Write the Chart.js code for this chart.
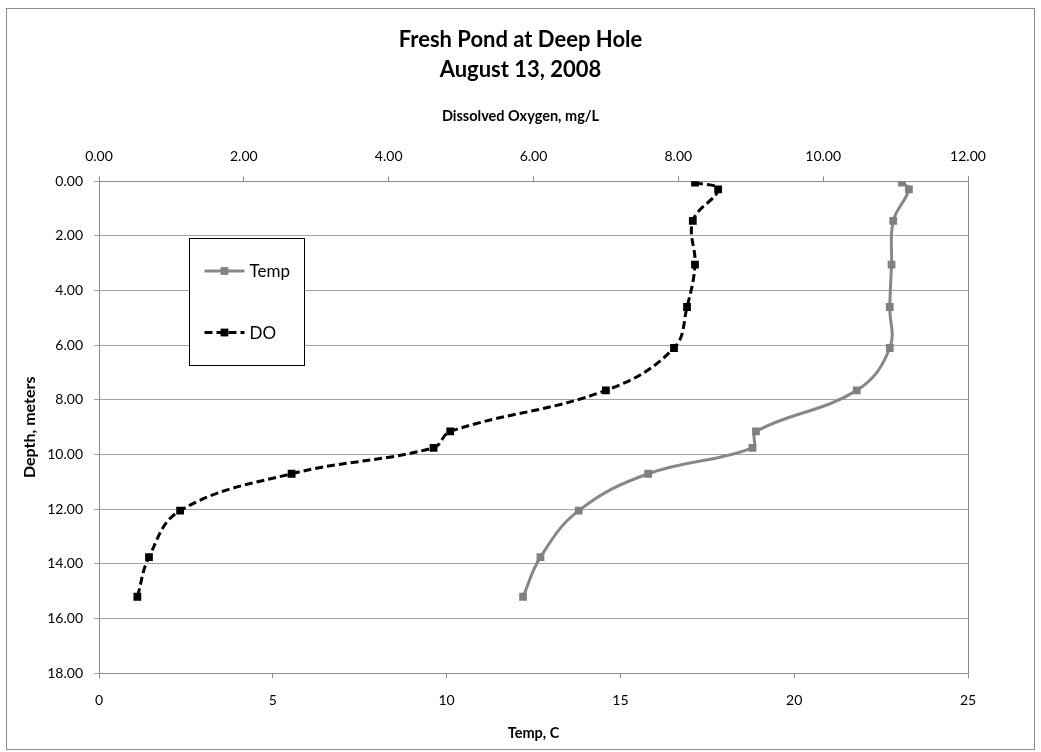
<!DOCTYPE html>
<html>
<head>
<meta charset="utf-8">
<title>Fresh Pond at Deep Hole</title>
<style>
  body { margin: 0; background: #fff; }
  canvas { display: block; }
</style>
</head>
<body>
<canvas id="profile" width="1041" height="752"></canvas>

<script src="https://cdn.jsdelivr.net/npm/chart.js@4.4.0/dist/chart.umd.min.js"></script>
<script>
// sampling depths (m) and readings at each depth
const depth = [0.05, 0.3, 1.45, 3.05, 4.6, 6.1, 7.65, 9.15, 9.75, 10.7, 12.05, 13.75, 15.2];
const temp = [23.1, 23.3, 22.85, 22.8, 22.75, 22.75, 21.8, 18.9, 18.8, 15.8, 13.8, 12.7, 12.2];
const dissolvedO2 = [8.23, 8.55, 8.2, 8.23, 8.12, 7.94, 7.0, 4.85, 4.62, 2.66, 1.12, 0.69, 0.53];

const FONT = 'Lato';
const gridGray = '#a3a3a3';
const axisGray = '#8c8c8c';

function points(values) {
    return values.map((v, i) => ({ x: v, y: depth[i] }));
}

// white background, outer frame and the right edge of the plot
const frame = {
    id: 'frame',
    beforeDraw(chart) {
        const ctx = chart.ctx;
        ctx.save();
        ctx.fillStyle = '#fff';
        ctx.fillRect(0, 0, chart.width, chart.height);
        ctx.strokeStyle = axisGray;
        ctx.lineWidth = 1;
        ctx.strokeRect(6.5, 8.5, chart.width - 13, chart.height - 11);
        ctx.restore();
    },
    beforeDatasetsDraw(chart) {
        const { ctx, chartArea } = chart;
        ctx.save();
        ctx.strokeStyle = axisGray;
        ctx.lineWidth = 1;
        ctx.beginPath();
        ctx.moveTo(Math.round(chartArea.right) + 0.5, chartArea.top);
        ctx.lineTo(Math.round(chartArea.right) + 0.5, chartArea.bottom);
        ctx.stroke();
        ctx.restore();
    }
};

// boxed legend sitting inside the plot, entries stacked far apart
const boxLegend = {
    id: 'boxLegend',
    afterDraw(chart) {
        const { ctx, chartArea } = chart;
        const x = Math.round(chartArea.left + 89.5) + 0.5;
        const y = Math.round(chartArea.top + 56.8) + 0.5;
        ctx.save();
        ctx.fillStyle = '#fff';
        ctx.fillRect(x, y, 115, 127);
        ctx.strokeStyle = '#000';
        ctx.lineWidth = 1;
        ctx.strokeRect(x, y, 115, 127);
        chart.data.datasets.forEach((ds, i) => {
            const cy = y + 32.5 + i * 61.5;
            ctx.strokeStyle = ds.borderColor;
            ctx.lineWidth = ds.borderWidth;
            ctx.setLineDash(ds.borderDash || []);
            ctx.beginPath();
            ctx.moveTo(x + 15, cy);
            ctx.lineTo(x + 55, cy);
            ctx.stroke();
            ctx.setLineDash([]);
            const s = ds.pointRadius * Math.SQRT2;
            ctx.fillStyle = ds.backgroundColor;
            ctx.fillRect(x + 35 - s / 2, cy - s / 2, s, s);
            ctx.fillStyle = '#000';
            ctx.font = '17px ' + FONT;
            ctx.textBaseline = 'middle';
            ctx.textAlign = 'left';
            ctx.fillText(ds.label, x + 60, cy + 1);
        });
        ctx.restore();
    }
};

const tickFont = { family: FONT, size: 14 };
const titleFont = { family: FONT, size: 14.5, weight: 'bold' };

new Chart(document.getElementById('profile'), {
    type: 'scatter',
    data: {
        datasets: [
            {
                label: 'Temp',
                data: points(temp),
                xAxisID: 'x',
                showLine: true,
                tension: 0.4,
                borderColor: '#878787',
                backgroundColor: '#808080',
                borderWidth: 3,
                pointStyle: 'rect',
                pointRadius: 5.5,
                pointBorderWidth: 0
            },
            {
                label: 'DO',
                data: points(dissolvedO2),
                xAxisID: 'x2',
                showLine: true,
                tension: 0.4,
                borderColor: '#000',
                backgroundColor: '#000',
                borderWidth: 3,
                borderDash: [8, 4],
                pointStyle: 'rect',
                pointRadius: 5.5,
                pointBorderWidth: 0
            }
        ]
    },
    options: {
        responsive: false,
        animation: false,
        events: [],
        layout: { padding: 0 },
        plugins: {
            legend: { display: false },
            tooltip: { enabled: false },
            title: {
                display: true,
                text: ['Fresh Pond at Deep Hole', 'August 13, 2008'],
                color: '#000',
                font: { family: FONT, size: 22, weight: 'bold', lineHeight: 1.36 },
                padding: { top: 25, bottom: 0 }
            },
            // the DO axis name, centred on the whole chart like the title
            subtitle: {
                display: true,
                text: 'Dissolved Oxygen, mg/L',
                color: '#000',
                font: titleFont,
                padding: { top: 23, bottom: 0 }
            }
        },
        scales: {
            x: {
                type: 'linear',
                position: 'bottom',
                min: 0,
                max: 25,
                ticks: { stepSize: 5, color: '#000', font: tickFont, padding: 14 },
                grid: { drawOnChartArea: false, tickLength: 5, color: axisGray },
                border: { color: axisGray },
                title: {
                    display: true,
                    text: 'Temp, C',
                    color: '#000',
                    font: titleFont,
                    padding: { top: 0, bottom: 10 }
                },
                afterFit(scale) { scale.height = 78.7; }
            },
            x2: {
                type: 'linear',
                position: 'top',
                min: 0,
                max: 12,
                ticks: {
                    stepSize: 2,
                    color: '#000',
                    font: tickFont,
                    padding: 11,
                    callback: v => v.toFixed(2)
                },
                grid: { drawOnChartArea: false, tickLength: 5, color: axisGray },
                border: { color: axisGray },
                afterFit(scale) { scale.height = 56; }
            },
            y: {
                type: 'linear',
                reverse: true,
                min: 0,
                max: 18,
                ticks: {
                    stepSize: 2,
                    color: '#000',
                    font: tickFont,
                    padding: 11,
                    callback: v => v.toFixed(2)
                },
                grid: { color: gridGray, tickLength: 5 },
                border: { color: axisGray },
                title: {
                    display: true,
                    text: 'Depth, meters',
                    color: '#000',
                    font: { family: FONT, size: 16, weight: 'bold' },
                    padding: { top: 20, bottom: 0 }
                },
                afterFit(scale) { scale.width = 99; }
            },
            // empty right-hand margin so titles centre on the full width
            yPad: {
                type: 'linear',
                position: 'right',
                display: true,
                ticks: { display: false },
                grid: { display: false },
                border: { display: false },
                afterFit(scale) { scale.width = 73; }
            }
        }
    },
    plugins: [frame, boxLegend]
});
</script>
</body>
</html>
